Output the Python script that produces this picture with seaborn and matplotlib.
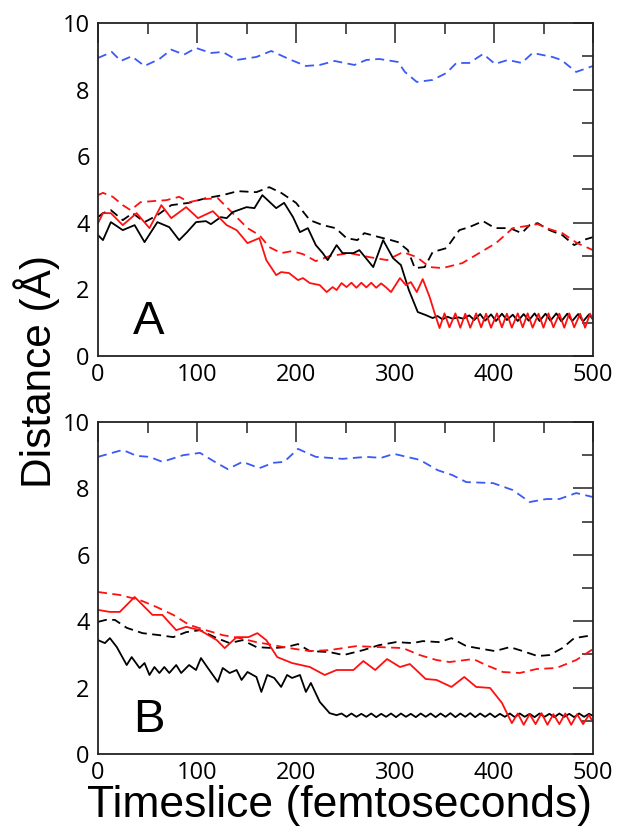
import numpy as np
import pandas as pd
import matplotlib
matplotlib.use("Agg")
import matplotlib.pyplot as plt
import seaborn as sns
from matplotlib.ticker import MultipleLocator

# ---------------- Panel A data ----------------
a_blue_t = [0, 14, 23, 34, 47, 62, 74, 87, 99, 114, 126, 140, 160, 175, 195, 210, 224, 239, 259,
            271, 284, 303, 310, 322, 338, 352, 362, 375, 389, 401, 414, 428, 439, 459, 468, 483, 500]
a_blue_d = [8.95, 9.13, 8.86, 9.0, 8.71, 8.92, 9.2, 9.05, 9.25, 9.1, 9.13, 8.89, 8.98, 9.16, 8.89, 8.71, 8.74, 8.86, 8.74,
            8.89, 8.92, 8.83, 8.53, 8.23, 8.29, 8.5, 8.8, 8.8, 9.07, 8.77, 8.89, 8.8, 9.1, 8.98, 8.89, 8.53, 8.71]

a_red_dash_t = [0, 5, 15, 25, 33, 43, 55, 69, 82, 92, 106, 121, 130, 140, 151, 163, 173, 185, 196, 207, 220,
                234, 254, 274, 292, 308, 322, 335, 348, 368, 385, 402, 419, 432, 444, 456, 469, 484, 500]
a_red_dash_d = [4.83, 4.9, 4.78, 4.53, 4.38, 4.62, 4.65, 4.68, 4.78, 4.62, 4.71, 4.74, 4.47, 4.17, 3.84, 3.63, 3.27, 3.09, 3.15, 3.06, 2.85,
                3.0, 3.09, 2.97, 2.88, 3.12, 2.97, 2.67, 2.64, 2.79, 3.09, 3.39, 3.84, 3.9, 3.96, 3.81, 3.69, 3.39, 3.18]

a_blk_dash_t = [0, 5, 13, 25, 35, 47, 60, 74, 92, 109, 126, 141, 160, 173, 185, 200, 214, 227, 240, 251, 262,
                269, 284, 296, 303, 313, 320, 330, 338, 352, 365, 375, 389, 401, 416, 428, 436, 444, 456, 469, 481, 490, 500]
a_blk_dash_d = [4.17, 4.29, 4.38, 4.08, 4.29, 4.02, 4.23, 4.53, 4.6, 4.74, 4.83, 4.95, 4.92, 5.07, 4.9, 4.6, 4.08, 3.93, 3.84, 3.54, 3.48,
                3.69, 3.57, 3.48, 3.42, 3.18, 2.64, 2.67, 3.12, 3.24, 3.78, 3.87, 4.05, 3.84, 3.84, 3.69, 3.93, 3.99, 3.78, 3.63, 3.33, 3.48, 3.57]

a_blk_t = [0, 5, 13, 25, 37, 47, 60, 72, 82, 90, 99, 109, 114, 124, 130, 136, 150, 158, 166, 180, 188, 197,
           204, 212, 220, 227, 232, 241, 247, 258, 264, 278, 288, 298, 306, 314, 323, 331,
           338, 343, 348, 353, 358, 364, 369, 375, 380, 386, 391, 397, 402, 408, 413, 419, 424, 430,
           435, 441, 446, 452, 457, 463, 468, 474, 479, 485, 490, 496, 500]
a_blk_d = [3.63, 3.48, 4.02, 3.78, 3.93, 3.42, 4.02, 3.87, 3.48, 3.72, 4.02, 4.05, 3.96, 4.17, 4.14, 4.32, 4.47, 4.44, 4.83, 4.44, 4.6, 4.17,
           3.72, 3.84, 3.33, 3.09, 2.88, 3.33, 3.09, 3.09, 3.18, 2.67, 3.48, 2.94, 2.73, 1.98, 1.32, 1.23,
           1.14, 1.2, 1.1, 1.18, 1.12, 1.16, 1.12, 1.22, 1.08, 1.26, 1.06, 1.25, 1.05, 1.27, 1.08, 1.24, 1.05, 1.26,
           1.06, 1.28, 1.05, 1.27, 1.06, 1.28, 1.04, 1.27, 1.05, 1.26, 1.04, 1.25, 1.1]

a_red_t = [0, 5, 13, 25, 39, 52, 64, 74, 89, 101, 116, 130, 140, 151, 163, 170, 180, 185, 193, 202, 207, 214,
           224, 231, 237, 241, 246, 251, 256, 261, 266, 271, 276, 281, 286, 291, 296, 305, 311, 316, 322, 328, 335, 340,
           345, 350, 355, 361, 366, 371, 376, 382, 387, 392, 397, 403, 408, 413, 418, 424, 429, 434, 439,
           445, 450, 455, 460, 466, 471, 476, 481, 487, 492, 497, 500]
a_red_d = [3.99, 4.29, 4.29, 3.93, 4.29, 3.84, 4.53, 4.14, 4.47, 4.14, 4.35, 3.93, 3.78, 3.39, 3.54, 2.88, 2.43, 2.52, 2.49, 2.28, 2.34, 2.19,
           2.13, 1.92, 2.07, 1.98, 2.19, 2.07, 2.2, 2.05, 2.2, 2.06, 2.2, 2.05, 2.18, 2.06, 1.92, 2.34, 2.13, 2.22, 1.92, 2.31, 1.77, 1.29,
           0.84, 1.28, 0.86, 1.28, 0.85, 1.27, 0.85, 1.28, 0.86, 1.27, 0.85, 1.28, 0.86, 1.27, 0.85, 1.28, 0.86, 1.28, 0.85,
           1.27, 0.85, 1.28, 0.86, 1.27, 0.85, 1.28, 0.86, 1.27, 0.85, 1.27, 1.1]

# ---------------- Panel B data ----------------
b_blue_t = [0, 25, 39, 52, 65, 86, 103, 118, 131, 146, 163, 177, 188, 202, 220, 247, 271, 286, 299,
            325, 343, 358, 372, 399, 419, 436, 453, 466, 483, 500]
b_blue_d = [8.95, 9.16, 8.98, 8.95, 8.8, 9.0, 9.07, 8.8, 8.58, 8.8, 8.61, 8.77, 8.8, 9.19, 8.95, 8.89, 8.95, 8.92, 9.04,
            8.86, 8.55, 8.4, 8.19, 8.16, 7.95, 7.59, 7.68, 7.68, 7.86, 7.74]

b_red_dash_t = [0, 22, 42, 59, 76, 92, 109, 126, 143, 160, 177, 193, 214, 234, 261, 284, 308, 325, 342,
                355, 379, 392, 409, 426, 443, 463, 483, 500]
b_red_dash_d = [4.88, 4.79, 4.64, 4.43, 4.19, 3.89, 3.73, 3.58, 3.49, 3.37, 3.28, 3.19, 3.1, 3.13, 3.25, 3.22, 3.19, 2.98, 2.83,
                2.77, 2.86, 2.68, 2.47, 2.44, 2.56, 2.59, 2.83, 3.16]

b_blk_dash_t = [0, 8, 17, 29, 45, 62, 76, 89, 103, 120, 133, 146, 160, 177, 190, 202, 214, 234, 248, 268,
                284, 301, 318, 328, 345, 357, 372, 389, 401, 416, 429, 444, 456, 469, 481, 500]
b_blk_dash_d = [3.98, 4.04, 4.04, 3.8, 3.64, 3.58, 3.52, 3.67, 3.73, 3.49, 3.34, 3.43, 3.22, 3.19, 3.22, 3.31, 3.1, 3.07, 2.98, 3.13,
                3.28, 3.37, 3.34, 3.4, 3.37, 3.49, 3.25, 3.16, 3.1, 3.22, 3.1, 2.95, 2.98, 3.19, 3.49, 3.58]

b_blk_t = [0, 7, 12, 19, 29, 34, 42, 47, 52, 57, 62, 67, 72, 79, 84, 92, 99, 104, 111, 121, 126, 133,
           140, 145, 151, 160, 165, 171, 178, 185, 191, 196, 204, 210, 215, 224, 234,
           241, 246, 251, 256, 261, 266, 271, 276, 281, 286, 291, 296, 301, 306, 311, 316, 321, 326,
           331, 336, 341, 346, 351, 356, 361, 366, 371, 376, 381, 386, 391, 396, 401, 406, 411, 416,
           421, 426, 431, 436, 441, 446, 451, 456, 461, 466, 471, 476, 481, 486, 491, 496, 500]
b_blk_d = [3.43, 3.34, 3.49, 3.22, 2.68, 2.92, 2.59, 2.74, 2.38, 2.62, 2.44, 2.62, 2.44, 2.68, 2.44, 2.68, 2.53, 2.89, 2.59, 2.17, 2.59, 2.44,
           2.53, 2.23, 2.47, 2.32, 1.87, 2.38, 2.29, 2.02, 2.38, 2.29, 2.38, 1.87, 2.14, 1.57, 1.23,
           1.17, 1.22, 1.12, 1.22, 1.12, 1.21, 1.12, 1.22, 1.11, 1.21, 1.12, 1.22, 1.11, 1.22, 1.12, 1.21, 1.11, 1.22,
           1.12, 1.22, 1.11, 1.22, 1.12, 1.23, 1.11, 1.22, 1.12, 1.23, 1.11, 1.22, 1.12, 1.22, 1.11, 1.21, 1.12, 1.22,
           1.11, 1.22, 1.12, 1.21, 1.11, 1.22, 1.12, 1.21, 1.11, 1.22, 1.12, 1.21, 1.11, 1.22, 1.12, 1.21, 1.15]

b_red_t = [0, 12, 22, 29, 37, 45, 55, 65, 79, 89, 103, 120, 128, 140, 152, 161, 170, 181, 196, 214, 229, 241,
           251, 258, 268, 280, 292, 305, 315, 331, 342, 357, 370, 382, 396, 408, 418,
           424, 430, 436, 442, 448, 454, 460, 466, 472, 478, 484, 490, 496, 500]
b_red_d = [4.34, 4.28, 4.28, 4.49, 4.73, 4.49, 4.19, 4.19, 3.73, 3.83, 3.73, 3.43, 3.19, 3.52, 3.52, 3.64, 3.43, 2.92, 2.74, 2.62, 2.38, 2.53,
           2.53, 2.53, 2.8, 2.53, 2.86, 2.62, 2.71, 2.26, 2.23, 2.02, 2.32, 2.02, 1.99, 1.54, 0.93,
           1.22, 0.88, 1.2, 0.9, 1.23, 0.88, 1.2, 0.9, 1.22, 0.88, 1.2, 0.9, 1.18, 0.95]

BLUE = "#3a5af5"
RED = "#ff1010"
DASH = (0, (5.0, 3.0))

panels = {
    "A": [(a_blue_t, a_blue_d, BLUE, DASH), (a_blk_dash_t, a_blk_dash_d, "black", DASH),
          (a_red_dash_t, a_red_dash_d, RED, DASH), (a_blk_t, a_blk_d, "black", "-"),
          (a_red_t, a_red_d, RED, "-")],
    "B": [(b_blue_t, b_blue_d, BLUE, DASH), (b_blk_dash_t, b_blk_dash_d, "black", DASH),
          (b_red_dash_t, b_red_dash_d, RED, DASH), (b_blk_t, b_blk_d, "black", "-"),
          (b_red_t, b_red_d, RED, "-")],
}

sns.set_style("white")
plt.rcParams["font.family"] = ["Open Sans", "DejaVu Sans"]
plt.rcParams["text.color"] = "black"
plt.rcParams["xtick.color"] = "black"
plt.rcParams["ytick.color"] = "black"
plt.rcParams["xtick.labelcolor"] = "black"
plt.rcParams["ytick.labelcolor"] = "black"

fig = plt.figure(figsize=(6.19, 8.38), dpi=100)
W, H = 619, 838
left, right = 98, 593
boxes = {"A": (23, 356), "B": (422, 754)}

for name, series in panels.items():
    top, bottom = boxes[name]
    ax = fig.add_axes([left / W, 1 - bottom / H, (right - left) / W, (bottom - top) / H])
    for t, d, color, ls in series:
        df = pd.DataFrame({"t": t, "d": d})
        sns.lineplot(data=df, x="t", y="d", ax=ax, color=color, linestyle=ls,
                     linewidth=1.3, estimator=None, sort=False)
    ax.set_xlim(0, 500)
    ax.set_ylim(0, 10)
    ax.xaxis.set_major_locator(MultipleLocator(100))
    ax.xaxis.set_minor_locator(MultipleLocator(50))
    ax.yaxis.set_major_locator(MultipleLocator(2))
    ax.yaxis.set_minor_locator(MultipleLocator(1))
    ax.tick_params(which="both", direction="in", top=True, right=True, width=1.1, color="#222222")
    ax.tick_params(which="major", length=14.5, labelsize=17)
    ax.tick_params(axis="x", which="major", pad=5)
    ax.tick_params(axis="y", which="major", pad=6)
    ax.tick_params(which="minor", length=8)
    ax.set_xlabel("")
    ax.set_ylabel("")
    for sp in ax.spines.values():
        sp.set_linewidth(1.3)
        sp.set_color("#222222")
    ax.text(35, 0.65, name, fontsize=34, family="Liberation Sans", ha="left", va="baseline")

fig.text(37 / W, 1 - 371 / H, "Distance (Å)", rotation=90, fontsize=30.5,
         family="Liberation Sans", ha="center", va="center")
fig.text(340 / W, 1 - 805 / H, "Timeslice (femtoseconds)", fontsize=32,
         family="Liberation Sans", ha="center", va="center")

fig.savefig("out.png", dpi=100)
